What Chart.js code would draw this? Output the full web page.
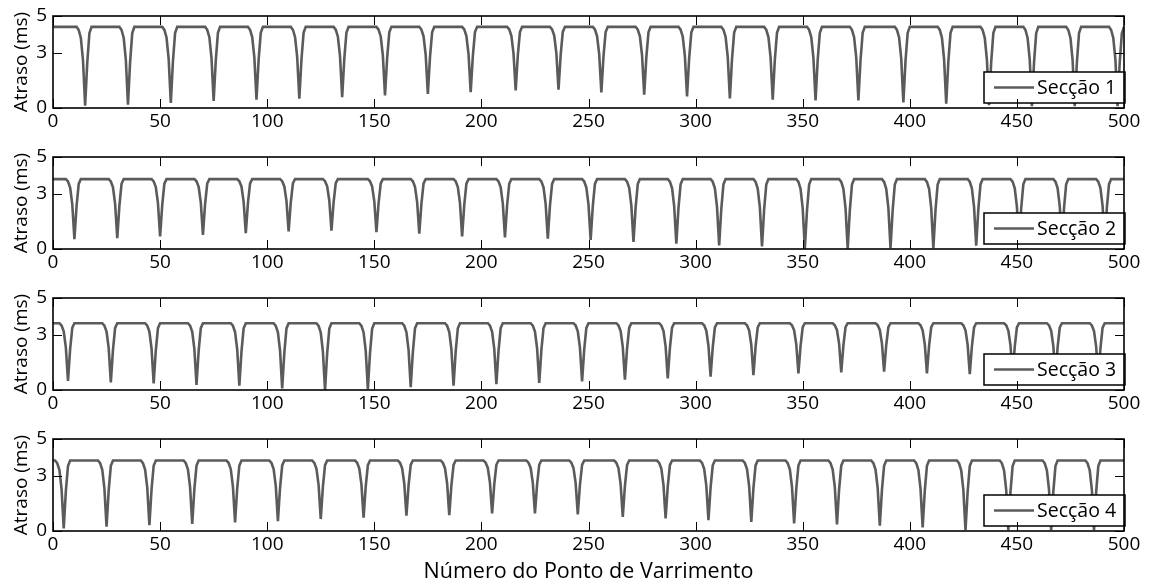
<!DOCTYPE html>
<html>
<head>
<meta charset="utf-8">
<script src="https://cdn.jsdelivr.net/npm/chart.js@4.4.1/dist/chart.umd.min.js"></script>
<style>
  body { margin: 0; background: #fff; overflow: hidden; }
  #wrap { position: relative; width: 1154px; height: 585px; overflow: hidden; }
  canvas { position: absolute; left: 0; }
</style>
</head>
<body>
<div id="wrap">
  <canvas id="sec1" width="1154" height="149" style="top:-4px"></canvas>
  <canvas id="sec2" width="1154" height="149" style="top:137px"></canvas>
  <canvas id="sec3" width="1154" height="149" style="top:278px"></canvas>
  <canvas id="sec4" width="1154" height="166" style="top:419px"></canvas>
</div>
<script>
// values: plateau level, dip positions and dip minima per section
var labels = ['Secção 1', 'Secção 2', 'Secção 3', 'Secção 4'];
var plateau = [4.41, 3.80, 3.63, 3.83];

var dipPos1 = [15, 35, 55, 75, 95, 115, 135, 155, 175, 195, 216, 236, 256, 276, 296, 316, 336, 356, 376, 397, 417, 437, 457, 477, 497];
var dipMin1 = [0.12, 0.18, 0.27, 0.38, 0.45, 0.50, 0.59, 0.68, 0.76, 0.86, 0.95, 0.99, 0.84, 0.73, 0.63, 0.52, 0.45, 0.41, 0.41, 0.30, 0.23, 0.15, 0.10, 0.10, 0.10];

var dipPos2 = [10, 30, 50, 70, 90, 110, 130, 151, 171, 191, 211, 231, 251, 271, 291, 311, 331, 351, 371, 391, 411, 431, 451, 471, 491];
var dipMin2 = [0.54, 0.59, 0.68, 0.77, 0.86, 0.95, 1.00, 0.91, 0.83, 0.68, 0.63, 0.56, 0.50, 0.38, 0.29, 0.19, 0.14, 0.02, 0.02, 0.05, 0.05, 0.18, 0.25, 0.30, 0.35];

var dipPos3 = [7, 27, 47, 67, 87, 107, 127, 147, 167, 187, 207, 227, 247, 267, 287, 307, 327, 348, 368, 388, 408, 428, 448, 468, 488];
var dipMin3 = [0.50, 0.41, 0.36, 0.28, 0.23, 0.09, 0.00, 0.04, 0.15, 0.23, 0.32, 0.38, 0.47, 0.56, 0.63, 0.72, 0.81, 0.90, 0.95, 1.00, 0.90, 0.86, 0.80, 0.70, 0.60];

var dipPos4 = [5, 25, 45, 65, 85, 105, 125, 145, 165, 185, 205, 225, 245, 266, 286, 306, 326, 346, 366, 386, 406, 426, 446, 466, 486];
var dipMin4 = [0.14, 0.23, 0.32, 0.38, 0.47, 0.54, 0.65, 0.72, 0.83, 0.86, 0.95, 0.95, 0.90, 0.77, 0.68, 0.59, 0.50, 0.41, 0.36, 0.29, 0.20, 0.04, 0.05, 0.05, 0.05];

// shape of one dip around its centre (samples before/after), as share of its depth
var dipOffsets = [-4, -3, -2, -1, 0, 1, 2, 3];
var dipShape = [0, 0.04, 0.14, 0.42, 1, 0.45, 0.08, 0];

var xTicks = [0, 50, 100, 150, 200, 250, 300, 350, 400, 450, 500];
var yTicks = [0, 3, 5];

var lineColor = '#5b5b5b';
Chart.defaults.font.family = "'Open Sans', sans-serif";
Chart.defaults.color = '#000';

function buildSeries(plat, pos, mins) {
	var pts = [{x: 0, y: plat}];
	for (var i = 0; i < pos.length; i++) {
		for (var k = 0; k < dipOffsets.length; k++) {
			var x = pos[i] + dipOffsets[k];
			if (x > pts[pts.length - 1].x && x <= 500) {
				pts.push({x: x, y: plat - dipShape[k] * (plat - mins[i])});
			}
		}
	}
	if (pts[pts.length - 1].x < 500) pts.push({x: 500, y: plat});
	return pts;
}

// legend box + matlab style frame with inward ticks
var frame = {
	id: 'frame',
	afterDatasetsDraw: function(chart) {
		var ctx = chart.ctx, a = chart.chartArea;
		var sx = chart.scales.x, sy = chart.scales.y;

		var ds = chart.data.datasets[0];
		var bw = 141, bh = 31;
		var bx = a.right + 1 - bw, by = a.bottom - 5 - bh;
		ctx.save();
		ctx.fillStyle = '#fff';
		ctx.fillRect(bx, by, bw, bh);
		ctx.strokeStyle = '#000';
		ctx.lineWidth = 1.5;
		ctx.strokeRect(bx, by, bw, bh);
		ctx.strokeStyle = ds.borderColor;
		ctx.lineWidth = 2.6;
		ctx.beginPath();
		ctx.moveTo(bx + 10, by + bh / 2);
		ctx.lineTo(bx + 50, by + bh / 2);
		ctx.stroke();
		ctx.fillStyle = '#000';
		ctx.font = "19.5px 'Open Sans', sans-serif";
		ctx.textBaseline = 'middle';
		ctx.fillText(ds.label, bx + 53, by + bh / 2 + 1);

		ctx.strokeStyle = '#000';
		ctx.lineWidth = 1.6;
		ctx.strokeRect(a.left, a.top, a.right - a.left, a.bottom - a.top);
		ctx.lineWidth = 1;
		ctx.beginPath();
		xTicks.forEach(function(v) {
			var px = Math.round(sx.getPixelForValue(v)) + 0.5;
			ctx.moveTo(px, a.bottom); ctx.lineTo(px, a.bottom - 9);
			ctx.moveTo(px, a.top); ctx.lineTo(px, a.top + 9);
		});
		yTicks.forEach(function(v) {
			var py = Math.round(sy.getPixelForValue(v)) + 0.5;
			ctx.moveTo(a.left, py); ctx.lineTo(a.left + 9, py);
			ctx.moveTo(a.right, py); ctx.lineTo(a.right - 9, py);
		});
		ctx.stroke();
		ctx.restore();
	}
};

function makeChart(id, n, pos, mins, last) {
	var cfg = {
		type: 'line',
		data: {
			datasets: [{
				label: labels[n],
				data: buildSeries(plateau[n], pos, mins),
				borderColor: lineColor,
				borderWidth: 2.6,
				pointRadius: 0,
				tension: 0,
				fill: false
			}]
		},
		options: {
			responsive: false,
			animation: false,
			layout: {padding: {top: 20, right: 30, left: 0, bottom: 0}},
			plugins: {legend: {display: false}, tooltip: {enabled: false}},
			scales: {
				x: {
					type: 'linear', min: 0, max: 500,
					afterBuildTicks: function(s) { s.ticks = xTicks.map(function(v) { return {value: v}; }); },
					afterFit: function(s) { s.height = last ? 54 : 37; },
					grid: {display: false, drawTicks: false},
					border: {display: false},
					ticks: {font: {size: 19}, padding: 2, maxRotation: 0, autoSkip: false},
					title: {display: last, text: 'Número do Ponto de Varrimento', font: {size: 21.5}, padding: {top: 0, bottom: 0}}
				},
				y: {
					min: 0, max: 5,
					afterBuildTicks: function(s) { s.ticks = yTicks.map(function(v) { return {value: v}; }); },
					afterFit: function(s) { s.width = 53; },
					grid: {display: false, drawTicks: false},
					border: {display: false},
					ticks: {font: {size: 19}, padding: 6},
					title: {display: true, text: 'Atraso (ms)', font: {size: 19}, padding: {top: 10, bottom: 0}}
				}
			}
		},
		plugins: [frame]
	};
	return new Chart(document.getElementById(id).getContext('2d'), cfg);
}

makeChart('sec1', 0, dipPos1, dipMin1, false);
makeChart('sec2', 1, dipPos2, dipMin2, false);
makeChart('sec3', 2, dipPos3, dipMin3, false);
makeChart('sec4', 3, dipPos4, dipMin4, true);
</script>
</body>
</html>
